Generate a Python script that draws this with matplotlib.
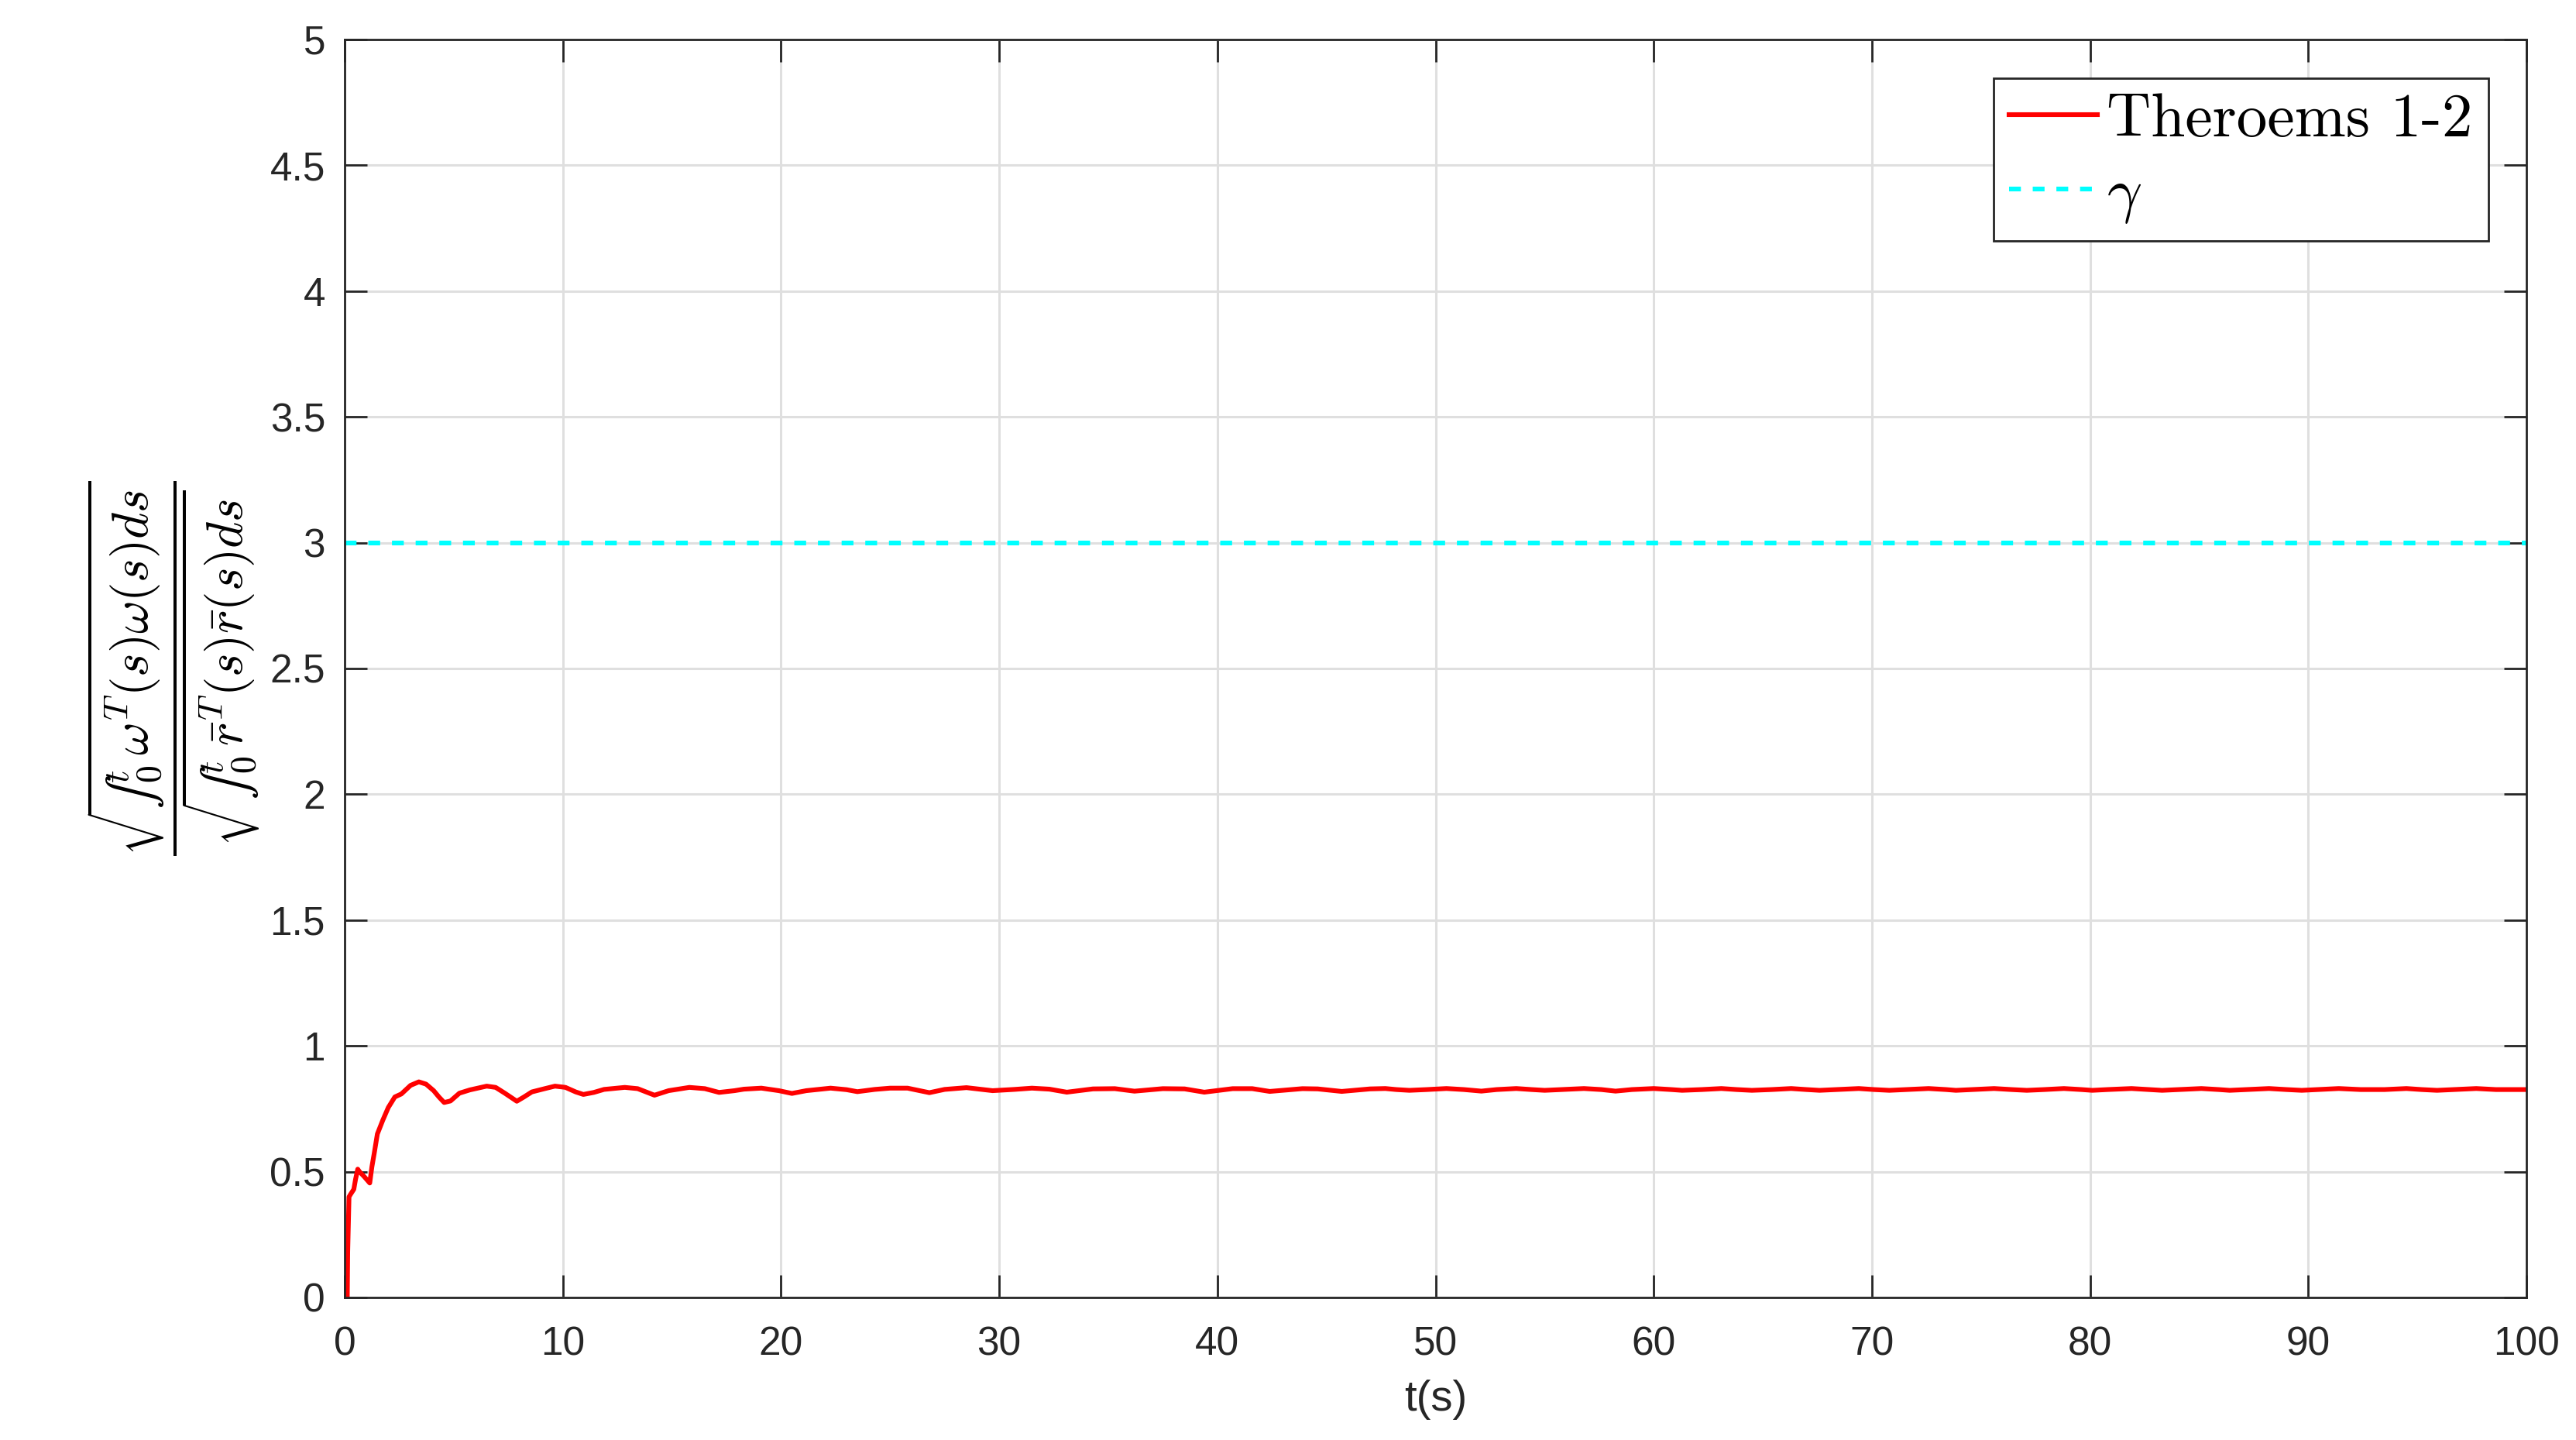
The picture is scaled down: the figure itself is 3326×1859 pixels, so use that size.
import matplotlib
matplotlib.use("Agg")
import matplotlib.pyplot as plt
from matplotlib.font_manager import FontProperties

plt.rcParams['mathtext.fontset'] = 'cm'

# ---- data ----
t_vals = [0.00, 0.12, 0.14, 0.20, 0.27, 0.42, 0.50, 0.60, 0.68, 0.90, 1.15, 1.25,
          1.35, 1.50, 1.75, 2.00, 2.30, 2.60, 3.02, 3.40, 3.73, 4.08, 4.32, 4.56,
          4.85, 5.26, 5.74, 6.51, 6.92, 7.34, 7.89, 8.22, 8.58, 9.17, 9.64, 10.12,
          10.59, 10.94, 11.42, 11.89, 12.84, 13.43, 14.20, 14.85, 15.80, 16.51, 17.16,
          17.87, 18.30, 19.10, 19.90, 20.50, 21.16, 22.27, 23.00, 23.50, 24.30, 25.00,
          25.80, 26.80, 27.50, 28.50, 29.70, 30.70, 31.50, 32.30, 33.10, 34.30, 35.30,
          36.20, 37.50, 38.50, 39.40, 40.70, 41.60, 42.40, 43.90, 44.60, 45.70, 47.00,
          47.70, 48.20, 48.80, 49.60, 50.50, 51.30, 52.10, 52.80, 53.70, 54.40, 55.00,
          55.80, 56.80, 57.60, 58.25, 59.00, 60.00, 60.80, 61.30, 62.20, 63.10, 63.80,
          64.50, 65.40, 66.30, 67.00, 67.60, 68.40, 69.40, 70.10, 70.80, 71.60, 72.60,
          73.40, 73.85, 74.60, 75.60, 76.40, 77.10, 77.90, 78.80, 79.60, 80.10, 80.80,
          81.90, 82.70, 83.30, 84.10, 85.10, 85.90, 86.40, 87.20, 88.20, 89.00, 89.70,
          90.40, 91.40, 92.40, 93.50, 94.50, 95.20, 95.90, 96.70, 97.70, 98.60, 100.00]
ratio_vals = [0.000, 0.000, 0.180, 0.400, 0.410, 0.430, 0.470, 0.510, 0.500, 0.480, 0.455, 0.520,
              0.570, 0.650, 0.705, 0.755, 0.797, 0.809, 0.843, 0.857, 0.848, 0.822, 0.797, 0.775,
              0.781, 0.812, 0.825, 0.840, 0.835, 0.812, 0.780, 0.797, 0.817, 0.830, 0.840, 0.835,
              0.817, 0.807, 0.815, 0.827, 0.835, 0.830, 0.804, 0.822, 0.835, 0.830, 0.815,
              0.822, 0.828, 0.832, 0.822, 0.811, 0.822, 0.832, 0.826, 0.818, 0.827, 0.832,
              0.832, 0.814, 0.827, 0.834, 0.822, 0.827, 0.832, 0.828, 0.816, 0.829, 0.830,
              0.820, 0.830, 0.829, 0.816, 0.830, 0.830, 0.819, 0.830, 0.829, 0.819, 0.829,
              0.8305, 0.8264, 0.8233, 0.8264, 0.8305, 0.8264, 0.8202, 0.8264, 0.8305, 0.8264, 0.8233,
              0.8264, 0.8305, 0.8264, 0.8202, 0.8264, 0.8305, 0.8264, 0.8233, 0.8264, 0.8305, 0.8264,
              0.8233, 0.8264, 0.8305, 0.8264, 0.8233, 0.8264, 0.8305, 0.8264, 0.8233, 0.8264, 0.8305,
              0.8264, 0.8233, 0.8264, 0.8305, 0.8264, 0.8233, 0.8264, 0.8305, 0.8264, 0.8233, 0.8264,
              0.8305, 0.8264, 0.8233, 0.8264, 0.8305, 0.8264, 0.8233, 0.8264, 0.8305, 0.8264, 0.8233,
              0.8264, 0.8305, 0.8264, 0.8264, 0.8305, 0.8264, 0.8233, 0.8264, 0.8305, 0.8264, 0.8264]
gamma_value = 3.0

x_ticks = [0, 10, 20, 30, 40, 50, 60, 70, 80, 90, 100]
y_ticks = [0, 0.5, 1, 1.5, 2, 2.5, 3, 3.5, 4, 4.5, 5]
y_tick_labels = ['0', '0.5', '1', '1.5', '2', '2.5', '3', '3.5', '4', '4.5', '5']

series_labels = ['Theroems 1-2', r'$\gamma$']
x_label = 't(s)'
y_label = ('$\\dfrac{\\sqrt{\u222b_0^t \\,\\omega^T(s)\\omega(s)ds}}'
           '{\\sqrt{\u222b_0^t \\,\\bar{r}^T(s)\\bar{r}(s)ds}}$')

# ---- figure ----
W, H, DPI = 3326, 1859, 200
fig = plt.figure(figsize=(W / DPI, H / DPI), dpi=DPI)
ax = fig.add_axes([445 / W, 1 - 1675 / H, (3262 - 445) / W, (1675 - 51) / H])

dark = '#262626'
tick_font = 'Liberation Sans'

line1, = ax.plot(t_vals, ratio_vals, color='#ff0000', lw=2.2, zorder=3,
                 label=series_labels[0])
line2, = ax.plot([x_ticks[0], x_ticks[-1]], [gamma_value, gamma_value], color='#00ffff',
                 lw=2.2, dashes=(2.5, 2.5), zorder=3, label=series_labels[1])

ax.set_xlim(x_ticks[0], x_ticks[-1])
ax.set_ylim(y_ticks[0], y_ticks[-1])
ax.set_xticks(x_ticks)
ax.set_xticklabels([str(v) for v in x_ticks])
ax.set_yticks(y_ticks)
ax.set_yticklabels(y_tick_labels)

ax.grid(True, color='#dfdfdf', linewidth=1.1, zorder=0)
ax.set_axisbelow(True)
for s in ax.spines.values():
    s.set_color(dark)
    s.set_linewidth(1.0)
    s.set_zorder(4)

ax.tick_params(axis='both', direction='in', top=True, right=True, length=10.4,
               width=1.0, color=dark, labelcolor=dark, labelsize=18.5, zorder=4)
ax.tick_params(axis='y', pad=9)
ax.tick_params(axis='x', pad=13)
for lab in ax.get_xticklabels() + ax.get_yticklabels():
    lab.set_fontfamily(tick_font)

ax.set_xlabel(x_label, fontsize=20.3, fontfamily=tick_font, color=dark)
ax.xaxis.set_label_coords(0.5, -0.065)
ax.set_ylabel(y_label, fontsize=23.5, color='black')
ax.yaxis.set_label_coords(-0.038, 0.5)

leg = ax.legend(handles=[line1, line2], loc='upper right',
                bbox_to_anchor=(0.9825, 0.9694), borderaxespad=0,
                prop=FontProperties(family='cmr10', size=28.6),
                fancybox=False, framealpha=1, edgecolor=dark,
                handlelength=1.43, handletextpad=0.16, borderpad=0.25,
                labelspacing=0.3)
leg.get_frame().set_linewidth(1.0)

fig.savefig('out.png', dpi=DPI, facecolor='white')
